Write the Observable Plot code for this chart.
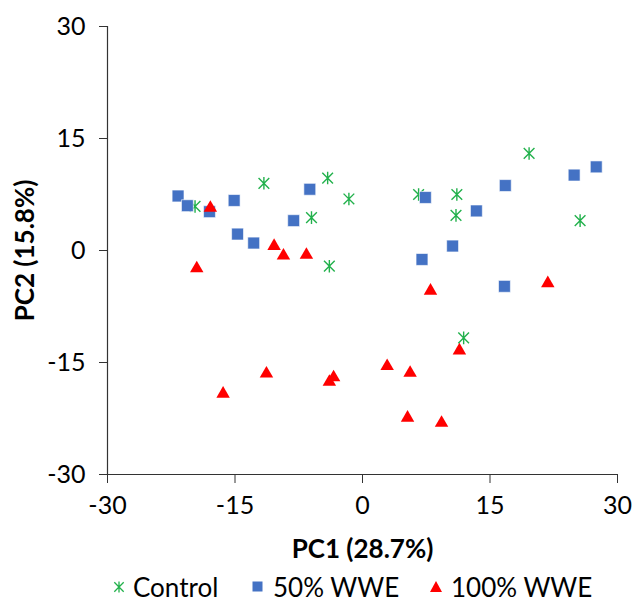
<!DOCTYPE html>
<html>
<head>
<meta charset="utf-8">
<script src="https://cdn.jsdelivr.net/npm/d3@7"></script>
<script src="https://cdn.jsdelivr.net/npm/@observablehq/plot@0.6"></script>
<style>
  html, body { margin: 0; padding: 0; background: #fff; }
  #chart { width: 636px; }
  .legend { position: relative; width: 636px; height: 40px; font-family: Lato, sans-serif; font-size: 26px; color: #000; }
  .legend .sym { position: absolute; display: block; line-height: 0; font-size: 0; }
  .legend .sym svg { display: block; }
  .legend .lab { position: absolute; top: 0; height: 44px; line-height: 44px; white-space: nowrap; }
</style>
</head>
<body>
<div id="chart"></div>
<script>
const xTicks = [-30, -15, 0, 15, 30];
const yTicks = [-30, -15, 0, 15, 30];
const series = ["Control", "50% WWE", "100% WWE"];
const colors = ["#22b14c", "#4472c4", "#ff0000"];

const controlPC1 = [-19.7, -11.6, -4.1, -1.6, -6.0, -3.9, 19.6, 6.6, 11.1, 11.0, 25.6, 11.9];
const controlPC2 = [5.9, 9.0, 9.7, 6.9, 4.4, -2.1, 13.0, 7.5, 7.5, 4.7, 4.0, -11.7];

const wwe50PC1 = [-21.7, -20.6, -18.0, -15.1, -6.2, -8.1, -14.7, -12.8, 27.5, 24.9, 16.8, 7.4, 13.4, 10.6, 7.0, 16.7];
const wwe50PC2 = [7.3, 6.0, 5.2, 6.7, 8.2, 4.0, 2.2, 1.0, 11.2, 10.1, 8.7, 7.1, 5.3, 0.6, -1.2, -4.8];

const wwe100PC1 = [-17.9, -10.4, -9.3, -6.6, -19.5, -11.3, -16.4, -3.9, -3.4, 8.0, 21.8, 11.4, 2.9, 5.6, 5.3, 9.3];
const wwe100PC2 = [5.7, 0.6, -0.7, -0.6, -2.4, -16.5, -19.2, -17.6, -17.0, -5.4, -4.4, -13.4, -15.5, -16.4, -22.4, -23.1];

const toRows = (xs, ys) => xs.map((x, i) => ({x, y: ys[i]}));
const control = toRows(controlPC1, controlPC2);
const wwe50 = toRows(wwe50PC1, wwe50PC2);
const wwe100 = toRows(wwe100PC1, wwe100PC2);

const fmt = d => String(d);

// Excel-style star marker: vertical bar plus an X
const star = {
  draw(ctx, size) {
    const r = Math.sqrt(size / Math.PI);
    const d = r * 0.85;
    ctx.moveTo(0, -r); ctx.lineTo(0, r);
    ctx.moveTo(-d, -d); ctx.lineTo(d, d);
    ctx.moveTo(-d, d); ctx.lineTo(d, -d);
  }
};

const chart = Plot.plot({
  width: 636,
  height: 565,
  marginLeft: 107,
  marginRight: 19,
  marginTop: 26,
  marginBottom: 91,
  style: { fontFamily: "Lato, sans-serif", fontSize: "25px", color: "#000", background: "#fff", overflow: "visible" },
  x: { domain: [-30, 30] },
  y: { domain: [-30, 30] },
  marks: [
    Plot.axisX({ ticks: xTicks, tickSize: 9, tickPadding: 13, tickFormat: fmt, label: null, fontSize: 25, stroke: "#333" }),
    Plot.axisY({ ticks: yTicks, tickSize: 8, tickPadding: 14, tickFormat: fmt, label: null, fontSize: 25, stroke: "#333" }),
    Plot.ruleX([-30], { stroke: "#333", strokeWidth: 1.2 }),
    Plot.ruleY([-30], { stroke: "#333", strokeWidth: 1.2 }),
    Plot.dot(control, { x: "x", y: "y", symbol: star, r: 6.3, stroke: colors[0], strokeWidth: 1.4, fill: "none" }),
    Plot.dot(wwe50, { x: "x", y: "y", symbol: "square", r: 6.7, fill: colors[1], stroke: "#fff", strokeWidth: 0.6 }),
    Plot.dot(wwe100, { x: "x", y: "y", symbol: "triangle", r: 5.0, fill: colors[2], stroke: "none" }),
    Plot.text(["PC1 (28.7%)"], { frameAnchor: "bottom", dy: 75, lineAnchor: "middle", fontWeight: "bold", fontSize: 26 }),
    Plot.text(["PC2 (15.8%)"], { frameAnchor: "left", dx: -82, rotate: -90, lineAnchor: "middle", textAnchor: "middle", fontWeight: "bold", fontSize: 26 })
  ]
});
document.getElementById("chart").appendChild(chart);

// Legend below the SVG
const legend = document.createElement("div");
legend.className = "legend";
const symLeft = [112, 252, 429];
const labLeft = [133, 273, 451];
const symbols = [
  `<svg width="14" height="14" viewBox="-7 -7 14 14"><path d="M0,-5.5V5.5M-4.7,-4.7L4.7,4.7M-4.7,4.7L4.7,-4.7" stroke="${colors[0]}" stroke-width="1.3" fill="none"/></svg>`,
  `<svg width="11" height="11" viewBox="0 0 11 11"><rect x="0.5" y="0.5" width="10" height="10" fill="${colors[1]}"/></svg>`,
  `<svg width="14" height="13" viewBox="0 0 14 13"><path d="M7,1L13,12H1Z" fill="${colors[2]}"/></svg>`
];
const symTop = [15, 16, 15];
series.forEach((s, i) => {
  const sym = document.createElement("span");
  sym.className = "sym";
  sym.style.left = symLeft[i] + "px";
  sym.style.top = symTop[i] + "px";
  sym.innerHTML = symbols[i];
  legend.appendChild(sym);
  const lab = document.createElement("span");
  lab.className = "lab";
  lab.style.left = labLeft[i] + "px";
  lab.textContent = s;
  legend.appendChild(lab);
});
document.body.appendChild(legend);
</script>
</body>
</html>
